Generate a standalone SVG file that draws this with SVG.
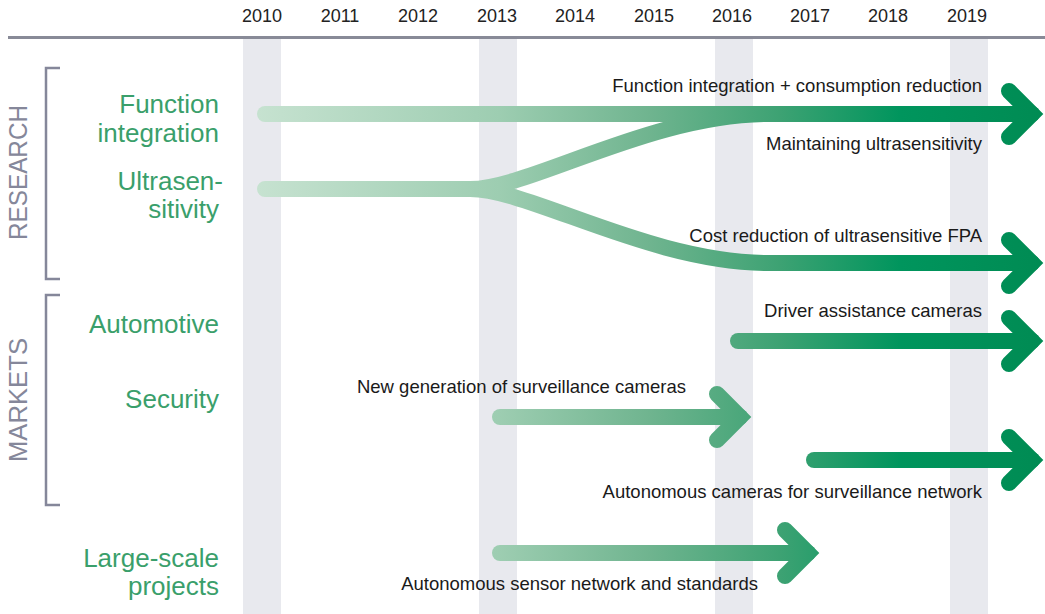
<svg xmlns="http://www.w3.org/2000/svg" width="1045" height="614" viewBox="0 0 1045 614">
  <style>
    .band { fill: #e8e9ee; }
    .year { font-family: "Liberation Sans", Arial, sans-serif; font-size: 18px; fill: #222; text-anchor: middle; }
    .cat { font-family: "Liberation Sans", Arial, sans-serif; font-size: 26px; fill: #3a9f6b; text-anchor: end; }
    .group { font-family: "Liberation Sans", Arial, sans-serif; font-size: 26px; fill: #85879a; text-anchor: middle; }
    .lbl { font-family: "Liberation Sans", Arial, sans-serif; font-size: 18.5px; fill: #1a1a1a; text-anchor: end; }
    .brk { fill: none; stroke: #85879a; stroke-width: 2.5; }
    .flow { fill: none; stroke: url(#g); stroke-width: 16; stroke-linecap: round; stroke-linejoin: round; }
    .head { fill: none; stroke: url(#g); stroke-width: 16; stroke-linecap: round; stroke-linejoin: miter; stroke-miterlimit: 4; }
  </style>
  <defs>
    <linearGradient id="g" gradientUnits="userSpaceOnUse" x1="258" y1="0" x2="1045" y2="0">
      <stop offset="0" stop-color="#c6e2d0"/>
      <stop offset="0.307" stop-color="#9dcdb1"/>
      <stop offset="0.498" stop-color="#6fb48f"/>
      <stop offset="0.663" stop-color="#3da273"/>
      <stop offset="0.816" stop-color="#00955d"/>
      <stop offset="1" stop-color="#008b53"/>
    </linearGradient>
  </defs>
  <rect width="1045" height="614" fill="#ffffff"/>

  <g id="grid">
    <rect class="band" x="243" y="39" width="38" height="575"/>
    <rect class="band" x="479" y="39" width="38" height="575"/>
    <rect class="band" x="715" y="39" width="38" height="575"/>
    <rect class="band" x="950" y="39" width="38" height="575"/>
    <line x1="8" y1="37.5" x2="1045" y2="37.5" stroke="#888a97" stroke-width="3"/>
  </g>

  <g id="years">
    <text class="year" x="262" y="22">2010</text>
    <text class="year" x="340" y="22">2011</text>
    <text class="year" x="418" y="22">2012</text>
    <text class="year" x="497" y="22">2013</text>
    <text class="year" x="575" y="22">2014</text>
    <text class="year" x="654" y="22">2015</text>
    <text class="year" x="732" y="22">2016</text>
    <text class="year" x="810" y="22">2017</text>
    <text class="year" x="888" y="22">2018</text>
    <text class="year" x="967" y="22">2019</text>
  </g>

  <g id="research">
    <path class="brk" d="M60,68 H46 V279 H60"/>
    <text class="group" transform="translate(27,172.5) rotate(-90)" x="0" y="0" textLength="135" lengthAdjust="spacingAndGlyphs">RESEARCH</text>
  </g>
  <g id="markets">
    <path class="brk" d="M60,295 H46 V505 H60"/>
    <text class="group" transform="translate(27,400) rotate(-90)" x="0" y="0" textLength="124" lengthAdjust="spacingAndGlyphs">MARKETS</text>
  </g>

  <g id="cat-function">
    <text class="cat" x="219" y="113">Function</text>
    <text class="cat" x="219" y="142">integration</text>
  </g>
  <g id="cat-ultra">
    <text class="cat" x="223" y="190">Ultrasen-</text>
    <text class="cat" x="219" y="218">sitivity</text>
  </g>
  <g id="cat-automotive">
    <text class="cat" x="219" y="333">Automotive</text>
  </g>
  <g id="cat-security">
    <text class="cat" x="219" y="408">Security</text>
  </g>
  <g id="cat-large">
    <text class="cat" x="219" y="567">Large-scale</text>
    <text class="cat" x="219" y="595">projects</text>
  </g>

  <g id="connectors">
    <path class="flow" d="M265,114 H1032"/>
    <path class="head" d="M1009,91 L1032,114 L1009,137"/>
    <path class="flow" d="M265,189 H470 C530,189 650,114 770,114"/>
    <path class="flow" d="M470,189 C530,189 650,263 770,263 H1032"/>
    <path class="head" d="M1009,240 L1032,263 L1009,286"/>
    <path class="flow" d="M738,341 H1032"/>
    <path class="head" d="M1009,318 L1032,341 L1009,364"/>
    <path class="flow" d="M500,417 H740"/>
    <path class="head" d="M717,394 L740,417 L717,440"/>
    <path class="flow" d="M814,460 H1032"/>
    <path class="head" d="M1009,437 L1032,460 L1009,483"/>
    <path class="flow" d="M500,553 H808"/>
    <path class="head" d="M785,530 L808,553 L785,576"/>
  </g>

  <g id="labels">
    <text class="lbl" x="982" y="92">Function integration + consumption reduction</text>
    <text class="lbl" x="982" y="150">Maintaining ultrasensitivity</text>
    <text class="lbl" x="982" y="242">Cost reduction of ultrasensitive FPA</text>
    <text class="lbl" x="982" y="317">Driver assistance cameras</text>
    <text class="lbl" x="686" y="393">New generation of surveillance cameras</text>
    <text class="lbl" x="982" y="498">Autonomous cameras for surveillance network</text>
    <text class="lbl" x="758" y="590">Autonomous sensor network and standards</text>
  </g>
</svg>
